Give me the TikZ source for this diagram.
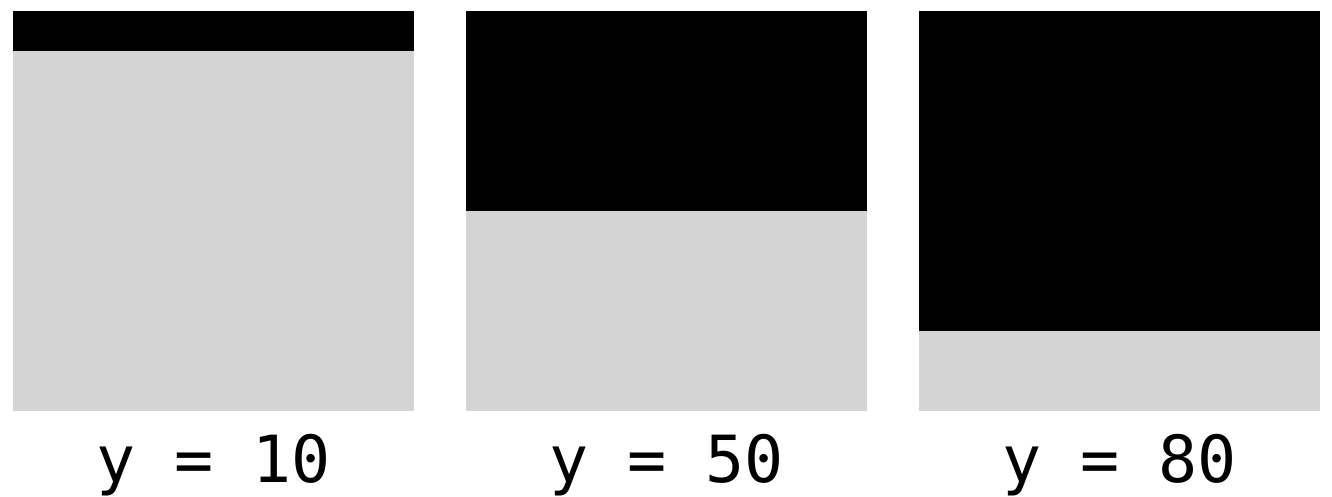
\documentclass[tikz,border=0pt]{standalone}
\usepackage{fontspec}
\newfontfamily\labmono{DejaVu Sans Mono}
\definecolor{panelgray}{RGB}{212,212,212}
\tikzset{
  panelbg/.style={fill=panelgray, draw=none},
  panelfg/.style={fill=black, draw=none},
  panellabel/.style={font=\labmono\fontsize{65}{65}\selectfont, anchor=base, inner sep=0pt},
}
\begin{document}
\begin{tikzpicture}[x=1pt,y=-1pt]
\useasboundingbox (0,0) rectangle (1332,496);
\foreach \n/\x/\h in {a/13/40, b/466/200, c/919/320} {
  \fill[panelbg] (\x,11) rectangle ++(401,400);
  \fill[panelfg] (\x,11) rectangle ++(401,\h);
}
\node[panellabel] (la) at (213.5,482) {y = 10};
\node[panellabel] (lb) at (666.5,482) {y = 50};
\node[panellabel] (lc) at (1119.5,482) {y = 80};
\end{tikzpicture}
\end{document}
